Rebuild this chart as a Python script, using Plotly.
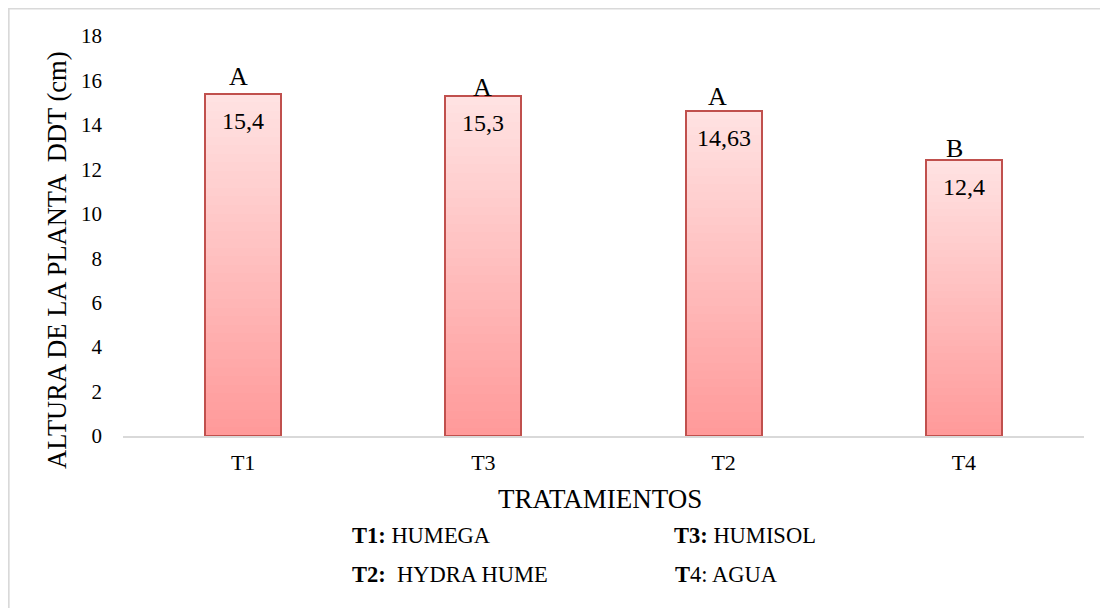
import plotly.graph_objects as go

# ---- data ----
categories = ["T1", "T3", "T2", "T4"]
values = [15.4, 15.3, 14.63, 12.4]
letters = ["A", "A", "A", "B"]
y_ticks = [0, 2, 4, 6, 8, 10, 12, 14, 16, 18]
legend_lines = [
    ("<b>T1:</b> HUMEGA", 0.2362, -0.2475),
    ("<b>T3:</b> HUMISOL", 0.5713, -0.2475),
    ("<b>T2:</b>\u00a0 HYDRA HUME", 0.2362, -0.3450),
    ("<b>T</b>4: AGUA", 0.5723, -0.3450),
]
# small per-letter fine-tuning (px) to match the reference placement
letter_yshift = [17, 9, 14, 12]
letter_xshift = [-5, -1, -6, -9]

FONT = "Liberation Serif"
N = 40
BAR_W = 0.317
top_rgb = (255, 226, 226)
bot_rgb = (255, 154, 154)

fig = go.Figure()

# gradient body: stack N slices per bar, each 1/N of the bar's own value
for i in range(N):
    t = i / (N - 1)
    c = tuple(round(bot_rgb[k] + (top_rgb[k] - bot_rgb[k]) * t) for k in range(3))
    col = "rgb(%d,%d,%d)" % c
    fig.add_trace(go.Bar(
        x=categories, y=[v / N for v in values], width=BAR_W,
        marker=dict(color=col, line=dict(color=col, width=0.6)),
        showlegend=False, hoverinfo="skip", xaxis="x", yaxis="y",
    ))

# outline bar on an overlaid axis
fig.add_trace(go.Bar(
    x=categories, y=values, width=BAR_W,
    marker=dict(color="rgba(0,0,0,0)", line=dict(color="#C0504D", width=2)),
    showlegend=False, xaxis="x2", yaxis="y",
    hovertemplate="%{x}: %{y}<extra></extra>",
))

annotations = []
for i, (c, v) in enumerate(zip(categories, values)):
    annotations.append(dict(
        x=c, y=v, xref="x", yref="y", text=str(v).replace(".", ","),
        showarrow=False, yanchor="top", yshift=-12,
        font=dict(family=FONT, size=24, color="black"),
    ))
    annotations.append(dict(
        x=c, y=v, xref="x", yref="y", text=letters[i],
        showarrow=False, yanchor="middle", yshift=letter_yshift[i], xshift=letter_xshift[i],
        font=dict(family=FONT, size=26, color="black"),
    ))

annotations.append(dict(
    x=0.4964, y=-0.1575, xref="paper", yref="paper", text="TRATAMIENTOS",
    showarrow=False, xanchor="center", yanchor="middle",
    font=dict(family=FONT, size=27, color="black"),
))
annotations.append(dict(
    x=-0.0687, y=0.44, xref="paper", yref="paper", text="ALTURA DE LA PLANTA \u00a0DDT (cm)",
    showarrow=False, xanchor="center", yanchor="middle", textangle=-90,
    font=dict(family=FONT, size=26.5, color="black"),
))
for txt, xp, yp in legend_lines:
    annotations.append(dict(
        x=xp, y=yp, xref="paper", yref="paper", text=txt,
        showarrow=False, xanchor="left", yanchor="middle",
        font=dict(family=FONT, size=22.5, color="black"),
    ))

fig.update_layout(
    width=1108, height=608,
    margin=dict(l=115, r=32, t=28, b=180),
    paper_bgcolor="white", plot_bgcolor="white",
    barmode="stack", bargap=0,
    font=dict(family=FONT, size=21, color="black"),
    xaxis=dict(
        type="category", categoryorder="array", categoryarray=categories,
        showline=True, linecolor="#D9D9D9", linewidth=1.5,
        showgrid=False, ticks="", ticklabelstandoff=6,
        tickfont=dict(family=FONT, size=22, color="black"),
        range=[-0.5, 3.5], zeroline=False,
    ),
    xaxis2=dict(
        type="category", categoryorder="array", categoryarray=categories,
        overlaying="x", visible=False, range=[-0.5, 3.5],
    ),
    yaxis=dict(
        range=[0, 18], tickvals=y_ticks, showgrid=False, zeroline=False,
        showline=False, ticks="", ticklabelstandoff=20,
        tickfont=dict(family=FONT, size=21, color="black"),
    ),
    annotations=annotations,
    shapes=[dict(
        type="rect", xref="paper", yref="paper",
        x0=-0.1190, x1=1.06, y0=-0.48, y1=1.0685,
        line=dict(color="#D9D9D9", width=2), fillcolor="rgba(0,0,0,0)", layer="below",
    )],
)

fig.write_html("out.html")
